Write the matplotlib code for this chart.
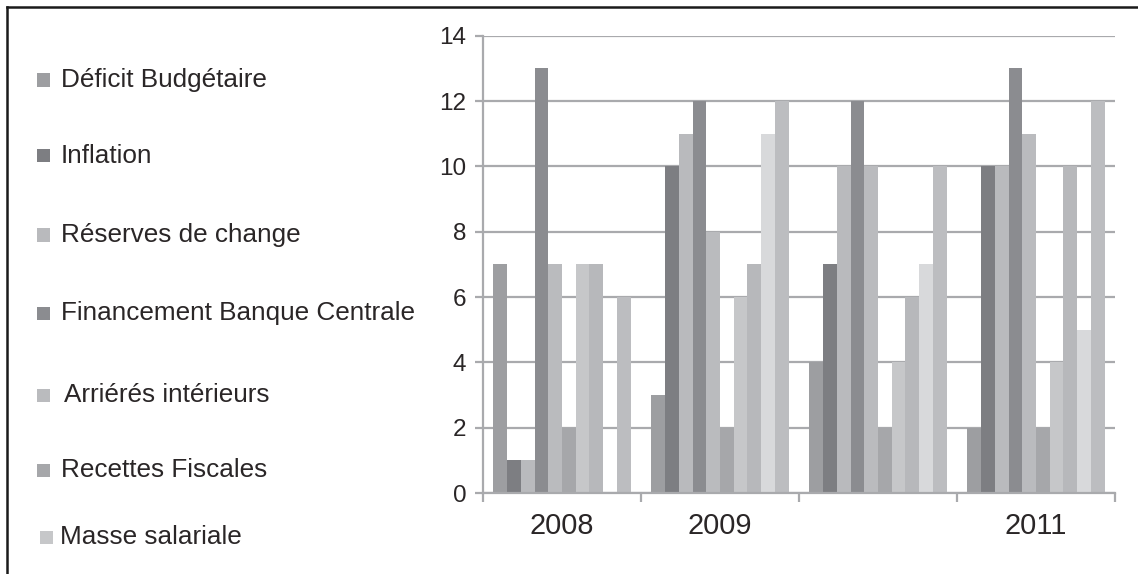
import matplotlib
matplotlib.use("Agg")
import matplotlib.pyplot as plt
from matplotlib.patches import Rectangle
from matplotlib.lines import Line2D
import numpy as np

plt.rcParams['font.family'] = ['Liberation Sans', 'DejaVu Sans']

years = ["2008", "2009", "", "2011"]
series_names = [
    "Déficit Budgétaire",
    "Inflation",
    "Réserves de change",
    "Financement Banque Centrale",
    "Arriérés intérieurs",
    "Recettes Fiscales",
    "Masse salariale",
    "", "", "",
]
values = [
    [7, 3, 4, 2],
    [1, 10, 7, 10],
    [1, 11, 10, 10],
    [13, 12, 12, 13],
    [7, 8, 10, 11],
    [2, 2, 2, 2],
    [7, 6, 4, 4],
    [7, 7, 6, 10],
    [0, 11, 7, 5],
    [6, 12, 10, 12],
]
colors = ["#9d9ea1", "#7d7e82", "#b9babd", "#8b8c90", "#babbbe",
          "#a6a7aa", "#c6c7c9", "#b7b8bb", "#d8d9db", "#bcbdc0"]
yticks = [0, 2, 4, 6, 8, 10, 12, 14]

W, H = 1138, 574
fig = plt.figure(figsize=(W / 100, H / 100), dpi=100)
ax = fig.add_axes([483 / W, 81 / H, (1115 - 483) / W, (538.3 - 81) / H])

axis_grey = "#a9aaad"
text_col = "#2a2627"

n = len(values)
bw = 0.0869
centers = np.arange(len(years)) + 0.5
for i, (vals, c) in enumerate(zip(values, colors)):
    x = centers + (i - (n - 1) / 2) * bw
    ax.bar(x, vals, width=bw, color=c, edgecolor="none", zorder=3)

ax.set_xlim(0, len(years))
ax.set_ylim(0, 14)
ax.set_yticks(yticks)
ax.set_yticklabels([str(t) for t in yticks], fontsize=17.5, color=text_col)
ax.set_xticks(np.arange(len(years) + 1))
ax.set_xticklabels([])
ax.set_xticks(centers, minor=True)
ax.set_xticklabels(years, minor=True, fontsize=20.8, color=text_col)
ax.tick_params(axis="x", which="minor", length=0, pad=14)
ax.tick_params(axis="x", which="major", length=6.5, width=1.6, color=axis_grey)
ax.tick_params(axis="y", length=6, width=1.6, color=axis_grey, pad=6)

ax.grid(axis="y", color=axis_grey, linewidth=1.6, zorder=0)
for s in ["top", "right"]:
    ax.spines[s].set_visible(False)
for s in ["left", "bottom"]:
    ax.spines[s].set_color(axis_grey)
    ax.spines[s].set_linewidth(1.6)
    ax.spines[s].set_zorder(4)

# Legend drawn in figure pixel space
legend_y = [80, 156, 235, 313, 395, 470, 537]
sq_x = [37, 37, 37, 37, 37, 37, 40]
txt_x = [61, 61, 61, 61, 64, 61, 60]
for k, y in enumerate(legend_y):
    sq = 13
    fig.patches.append(Rectangle((sq_x[k] / W, (H - y - sq / 2) / H), sq / W, sq / H,
                                 transform=fig.transFigure, facecolor=colors[k],
                                 edgecolor="none"))
    fig.text(txt_x[k] / W, (H - y) / H, series_names[k], fontsize=18.8,
             color=text_col, va="center", ha="left")

# Outer frame (top and left edges)
fig.add_artist(Line2D([7 / W, 1], [(H - 7) / H, (H - 7) / H], color="#1a1a1a",
                      linewidth=1.8, transform=fig.transFigure))
fig.add_artist(Line2D([7 / W, 7 / W], [0, (H - 7) / H], color="#1a1a1a",
                      linewidth=1.8, transform=fig.transFigure))

fig.savefig("out.png", dpi=100)
